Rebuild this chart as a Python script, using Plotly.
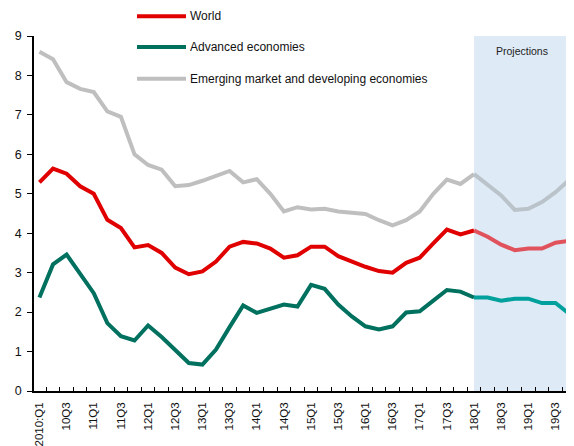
import plotly.graph_objects as go

quarters = [f"{y}Q{q}" for y in range(10, 20) for q in range(1, 5)]
tick_labels = ["2010:Q1" if i == 0 else quarters[i] for i in range(0, 40, 2)]

world = [5.29, 5.64, 5.51, 5.19, 5.00, 4.34, 4.13, 3.64, 3.70, 3.50,
         3.13, 2.96, 3.03, 3.28, 3.66, 3.78, 3.74, 3.61, 3.38, 3.44,
         3.66, 3.66, 3.42, 3.28, 3.15, 3.04, 3.00, 3.25, 3.38, 3.74,
         4.09, 3.97, 4.07, 3.91, 3.71, 3.57, 3.61, 3.61, 3.76, 3.81]
advanced = [2.37, 3.21, 3.46, 2.96, 2.48, 1.72, 1.39, 1.28, 1.66, 1.37,
            1.05, 0.71, 0.67, 1.05, 1.62, 2.17, 1.98, 2.08, 2.19, 2.14,
            2.69, 2.59, 2.19, 1.89, 1.64, 1.56, 1.64, 1.99, 2.02, 2.29,
            2.56, 2.52, 2.37, 2.37, 2.29, 2.34, 2.34, 2.23, 2.23, 1.96]
emerging = [8.60, 8.41, 7.83, 7.66, 7.58, 7.09, 6.95, 6.00, 5.73, 5.61,
            5.19, 5.22, 5.33, 5.46, 5.58, 5.29, 5.37, 5.00, 4.55, 4.66,
            4.60, 4.62, 4.55, 4.52, 4.49, 4.33, 4.20, 4.33, 4.55, 5.00,
            5.36, 5.25, 5.50, 5.22, 4.96, 4.59, 4.62, 4.79, 5.04, 5.35]

proj_start = 32  # 2018:Q1
x = list(range(40))

series = [
    ("World", world, "#E00000", "#E0525C"),
    ("Advanced economies", advanced, "#00705F", "#00A09C"),
    ("Emerging market and developing economies", emerging, "#BFBFBF", "#BAC3CA"),
]

FONT = "Liberation Sans Narrow, Arial Narrow, Liberation Sans, Arial, sans-serif"

# page body has an 8px margin; compensate so the plot lands where the reference has it
OFF = 8
L, T, B = 34 - OFF, 36 - OFF, 52.5
W, H = 574 - OFF, 446 - OFF
plot_w = 540.0
plot_h = 393.5 - 36

fig = go.Figure()
for name, vals, col, pcol in series[::-1]:
    fig.add_trace(go.Scatter(x=x[:proj_start + 1], y=vals[:proj_start + 1], mode="lines",
                             line=dict(color=col, width=4), name=name, showlegend=False))
    fig.add_trace(go.Scatter(x=x[proj_start:], y=vals[proj_start:], mode="lines",
                             line=dict(color=pcol, width=4), name=name + " (proj)", showlegend=False))

# projection shading
fig.add_shape(type="rect", xref="x", yref="y", x0=proj_start, x1=39.5, y0=0, y1=9.05,
              fillcolor="#DEEAF6", line=dict(width=0), layer="below")
fig.add_annotation(x=35.5, y=8.63, xref="x", yref="y", text="Projections", showarrow=False,
                   font=dict(family=FONT, size=10.5, color="#222222"))

# legend built with shapes + text
leg_y = [16, 47, 79]
for (name, vals, col, pcol), py in zip(series, leg_y):
    yp = 1 - (py - 36) / plot_h
    x0p = (137 - 34) / plot_w
    x1p = (186 - 34) / plot_w
    fig.add_shape(type="line", xref="paper", yref="paper", x0=x0p, x1=x1p, y0=yp, y1=yp,
                  line=dict(color=col, width=4))
    fig.add_annotation(xref="paper", yref="paper", x=(188 - 34) / plot_w, y=yp, text=name,
                       showarrow=False, xanchor="left", yanchor="middle",
                       font=dict(family=FONT, size=12, color="#111111"))

fig.update_layout(
    width=W, height=H,
    margin=dict(l=L, r=0, t=T, b=B),
    plot_bgcolor="white", paper_bgcolor="white",
    font=dict(family=FONT, size=12, color="#111111"),
    showlegend=False,
)
fig.update_xaxes(
    range=[-0.4, 39.36],
    tickvals=list(range(0, 40, 2)), ticktext=tick_labels,
    tickangle=-90, ticks="", tickfont=dict(size=11.5), ticklabelstandoff=5,
    showline=True, linecolor="black", linewidth=1.5,
    showgrid=False, zeroline=False,
    minor=dict(tick0=0.5, dtick=1, ticks="inside", ticklen=4, tickcolor="black", showgrid=False),
)
fig.update_yaxes(
    range=[0, 9], dtick=1, ticks="outside", ticklen=5, tickcolor="black",
    showline=True, linecolor="black", linewidth=1.5,
    showgrid=False, zeroline=False, tickfont=dict(size=12.5), ticklabelstandoff=3,
)

fig.write_html("out.html")
